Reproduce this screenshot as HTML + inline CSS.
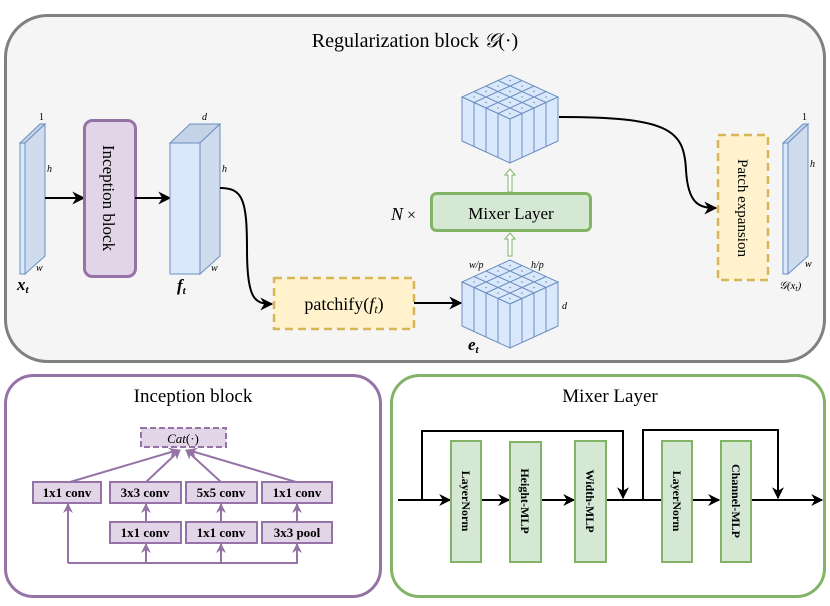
<!DOCTYPE html>
<html><head><meta charset="utf-8"><style>
html,body{margin:0;padding:0;background:#fff;}
svg{display:block;}
text{font-family:"Liberation Serif",serif;fill:#000;}
</style></head><body>
<svg width="830" height="606" viewBox="0 0 830 606" xmlns="http://www.w3.org/2000/svg">
<defs>
<marker id="ah" viewBox="0 0 10 10" refX="9" refY="5" markerWidth="13" markerHeight="13" orient="auto" markerUnits="userSpaceOnUse"><path d="M0,0 L10,5 L0,10 L3,5 z" fill="#000"/></marker>
<marker id="ahb" viewBox="0 0 10 10" refX="9" refY="5" markerWidth="12" markerHeight="12" orient="auto" markerUnits="userSpaceOnUse"><path d="M0,0 L10,5 L0,10 L3,5 z" fill="#000"/></marker>
<marker id="ap" viewBox="0 0 10 10" refX="9" refY="5" markerWidth="10" markerHeight="10" orient="auto" markerUnits="userSpaceOnUse"><path d="M0,0 L10,5 L0,10 L3,5 z" fill="#9673a6"/></marker>
<g id="cube" stroke="#6c8ebf" stroke-width="1" fill="#dae8fc">
<path d="M0,0 L-48,22 L0,44 L48,22 Z"/>
<path d="M-48,22 L0,44 L0,88 L-48,66 Z"/>
<path d="M0,44 L48,22 L48,66 L0,88 Z"/>
<path fill="none" d="M-12,5.5 L36,27.5 M-24,11 L24,33 M-36,16.5 L12,38.5 M12,5.5 L-36,27.5 M24,11 L-24,33 M36,16.5 L-12,38.5
M-36,27.5 V71.5 M-24,33 V77 M-12,38.5 V82.5 M12,38.5 V82.5 M24,33 V77 M36,27.5 V71.5"/>
<g fill="#6c8ebf" stroke="none">
<circle cx="0" cy="5.5" r=".8"/><circle cx="12" cy="11" r=".8"/><circle cx="24" cy="16.5" r=".8"/><circle cx="36" cy="22" r=".8"/>
<circle cx="-12" cy="11" r=".8"/><circle cx="0" cy="16.5" r=".8"/><circle cx="12" cy="22" r=".8"/><circle cx="24" cy="27.5" r=".8"/>
<circle cx="-24" cy="16.5" r=".8"/><circle cx="-12" cy="22" r=".8"/><circle cx="0" cy="27.5" r=".8"/><circle cx="12" cy="33" r=".8"/>
<circle cx="-36" cy="22" r=".8"/><circle cx="-24" cy="27.5" r=".8"/><circle cx="-12" cy="33" r=".8"/><circle cx="0" cy="38.5" r=".8"/>
</g>
</g>
</defs>

<!-- Top panel -->
<rect x="5.5" y="15.5" width="819" height="346" rx="42" fill="#f5f5f5" stroke="#808080" stroke-width="3"/>
<text x="415" y="47" font-size="20" text-anchor="middle">Regularization block <tspan font-style="italic">𝒢</tspan>(·)</text>

<!-- x_t slab -->
<g stroke="#6c8ebf" stroke-width="1">
<path d="M20,143 L40,124 L45,124 L25,143 Z" fill="#c5d3e8"/>
<rect x="20" y="143" width="5" height="131" fill="#dae8fc"/>
<path d="M25,143 L45,124 L45,256 L25,274 Z" fill="#cfdcee"/>
</g>
<text x="39" y="120" font-size="10">1</text>
<text x="47" y="172" font-size="10" font-style="italic">h</text>
<text x="36" y="271" font-size="10" font-style="italic">w</text>
<text x="17" y="290" font-size="17" font-style="italic" font-weight="bold">x<tspan font-size="11" dy="3">t</tspan></text>

<line x1="45" y1="198" x2="84" y2="198" stroke="#000" stroke-width="2" marker-end="url(#ah)"/>
<rect x="84.5" y="120.5" width="51" height="156" rx="8" fill="#e1d5e7" stroke="#9673a6" stroke-width="3"/>
<text transform="translate(103,198) rotate(90)" font-size="17" text-anchor="middle">Inception block</text>
<line x1="135" y1="198" x2="170" y2="198" stroke="#000" stroke-width="2" marker-end="url(#ah)"/>

<!-- f_t -->
<g stroke="#6c8ebf" stroke-width="1">
<path d="M170,143 L190,124 L220,124 L200,143 Z" fill="#c5d3e8"/>
<rect x="170" y="143" width="30" height="131" fill="#dae8fc"/>
<path d="M200,143 L220,124 L220,256 L200,274 Z" fill="#cfdcee"/>
</g>
<text x="202" y="120" font-size="10" font-style="italic">d</text>
<text x="222" y="172" font-size="10" font-style="italic">h</text>
<text x="211" y="271" font-size="10" font-style="italic">w</text>
<text x="177" y="291" font-size="17" font-style="italic" font-weight="bold">f<tspan font-size="11" dy="3">t</tspan></text>

<path d="M220,188 C243,188 247,200 247,250 C247,300 255,304 272,304" fill="none" stroke="#000" stroke-width="2" marker-end="url(#ah)"/>
<rect x="274" y="278" width="140" height="51" fill="#fff2cc" stroke="#d6b656" stroke-width="2.5" stroke-dasharray="8,5"/>
<text x="344" y="310" font-size="18" text-anchor="middle">patchify(<tspan font-style="italic">f</tspan><tspan font-size="12" dy="3" font-style="italic">t</tspan><tspan dy="-3">)</tspan></text>
<line x1="414" y1="303" x2="461" y2="303" stroke="#000" stroke-width="2" marker-end="url(#ah)"/>

<!-- cubes -->
<use href="#cube" x="510" y="260"/>
<use href="#cube" x="510" y="75"/>
<text x="469" y="268" font-size="10" font-style="italic">w/p</text>
<text x="531" y="268" font-size="10" font-style="italic">h/p</text>
<text x="562" y="309" font-size="10" font-style="italic">d</text>
<text x="468" y="350" font-size="17" font-style="italic" font-weight="bold">e<tspan font-size="11" dy="3">t</tspan></text>

<!-- hollow green arrows -->
<g fill="#fff" stroke="#82b366" stroke-width="1">
<path d="M508,256 V239 H505 L510,233 L515,239 H512 V256 Z"/>
<path d="M508,192 V175 H505 L510,169 L515,175 H512 V192 Z"/>
</g>
<rect x="431.5" y="193.5" width="159" height="37" rx="5" fill="#d5e8d4" stroke="#82b366" stroke-width="3"/>
<text x="511" y="219" font-size="17" text-anchor="middle">Mixer Layer</text>
<text x="391" y="220" font-size="18" font-style="italic">N</text><text x="407" y="220" font-size="16">×</text>

<path d="M559,117 C670,117 684,130 686,170 C688,205 700,208 716,208" fill="none" stroke="#000" stroke-width="2" marker-end="url(#ah)"/>
<rect x="718" y="135" width="50" height="145" fill="#fff2cc" stroke="#d6b656" stroke-width="2.5" stroke-dasharray="8,5"/>
<text transform="translate(738,208) rotate(90)" font-size="15" text-anchor="middle">Patch expansion</text>

<!-- G(x_t) slab -->
<g stroke="#6c8ebf" stroke-width="1">
<path d="M783,143 L803,124 L808,124 L788,143 Z" fill="#c5d3e8"/>
<rect x="783" y="143" width="5" height="131" fill="#dae8fc"/>
<path d="M788,143 L808,124 L808,256 L788,274 Z" fill="#cfdcee"/>
</g>
<text x="802" y="120" font-size="10">1</text>
<text x="810" y="167" font-size="10" font-style="italic">h</text>
<text x="805" y="267" font-size="10" font-style="italic">w</text>
<text x="779" y="289" font-size="11" font-style="italic">𝒢(x<tspan font-size="8" dy="2">t</tspan><tspan dy="-2">)</tspan></text>

<!-- Inception panel -->
<rect x="5.5" y="375.5" width="375" height="221" rx="28" fill="#fff" stroke="#9673a6" stroke-width="3"/>
<text x="193" y="402" font-size="19" text-anchor="middle">Inception block</text>
<rect x="141" y="428" width="85" height="19" fill="#e1d5e7" stroke="#9673a6" stroke-width="2" stroke-dasharray="6,3"/>
<text x="183" y="443" font-size="13" text-anchor="middle"><tspan font-style="italic">Cat</tspan>(·)</text>
<g stroke="#9673a6" stroke-width="2" fill="none">
<line x1="70" y1="482" x2="178" y2="450" marker-end="url(#ap)"/>
<line x1="146" y1="482" x2="180" y2="450" marker-end="url(#ap)"/>
<line x1="221" y1="482" x2="186" y2="450" marker-end="url(#ap)"/>
<line x1="296" y1="482" x2="188" y2="450" marker-end="url(#ap)"/>
<line x1="146" y1="522" x2="146" y2="504" marker-end="url(#ap)"/>
<line x1="221" y1="522" x2="221" y2="504" marker-end="url(#ap)"/>
<line x1="297" y1="522" x2="297" y2="504" marker-end="url(#ap)"/>
<path d="M68,563 H298"/>
<line x1="68" y1="563" x2="68" y2="504" marker-end="url(#ap)"/>
<line x1="146" y1="563" x2="146" y2="544" marker-end="url(#ap)"/>
<line x1="221" y1="563" x2="221" y2="544" marker-end="url(#ap)"/>
<line x1="297" y1="563" x2="297" y2="544" marker-end="url(#ap)"/>
</g>
<g fill="#e1d5e7" stroke="#9673a6" stroke-width="2">
<rect x="33" y="482" width="68" height="21"/><rect x="110" y="482" width="71" height="21"/>
<rect x="186" y="482" width="71" height="21"/><rect x="262" y="482" width="70" height="21"/>
<rect x="110" y="522" width="71" height="21"/><rect x="186" y="522" width="71" height="21"/>
<rect x="262" y="522" width="70" height="21"/>
</g>
<g font-size="13" font-weight="bold" text-anchor="middle">
<text x="67" y="497">1x1 conv</text><text x="145" y="497">3x3 conv</text>
<text x="221" y="497">5x5 conv</text><text x="297" y="497">1x1 conv</text>
<text x="145" y="537">1x1 conv</text><text x="221" y="537">1x1 conv</text>
<text x="297" y="537">3x3 pool</text>
</g>

<!-- Mixer panel -->
<rect x="391.5" y="375.5" width="433" height="221" rx="28" fill="#fff" stroke="#82b366" stroke-width="3"/>
<text x="610" y="402" font-size="19" text-anchor="middle">Mixer Layer</text>
<g stroke="#000" stroke-width="2" fill="none">
<line x1="398" y1="500" x2="450" y2="500" marker-end="url(#ahb)"/>
<line x1="481" y1="500" x2="509" y2="500" marker-end="url(#ahb)"/>
<line x1="541" y1="500" x2="574" y2="500" marker-end="url(#ahb)"/>
<line x1="606" y1="500" x2="661" y2="500"/>
<line x1="692" y1="500" x2="719" y2="500" marker-end="url(#ahb)"/>
<line x1="751" y1="500" x2="822" y2="500" marker-end="url(#ahb)"/>
<path d="M422,500 V431 H623 V498" marker-end="url(#ahb)"/>
<path d="M643,500 V430 H778 V498" marker-end="url(#ahb)"/>
</g>
<g fill="#d5e8d4" stroke="#82b366" stroke-width="2">
<rect x="451" y="441" width="30" height="121"/><rect x="510" y="442" width="31" height="120"/>
<rect x="575" y="441" width="31" height="121"/><rect x="662" y="441" width="30" height="121"/>
<rect x="721" y="441" width="30" height="121"/>
</g>
<g font-size="12" font-weight="bold" text-anchor="middle">
<text transform="translate(462,501) rotate(90)">LayerNorm</text>
<text transform="translate(521,501) rotate(90)">Height-MLP</text>
<text transform="translate(586,501) rotate(90)">Width-MLP</text>
<text transform="translate(673,501) rotate(90)">LayerNorm</text>
<text transform="translate(732,501) rotate(90)">Channel-MLP</text>
</g>
</svg>
</body></html>
